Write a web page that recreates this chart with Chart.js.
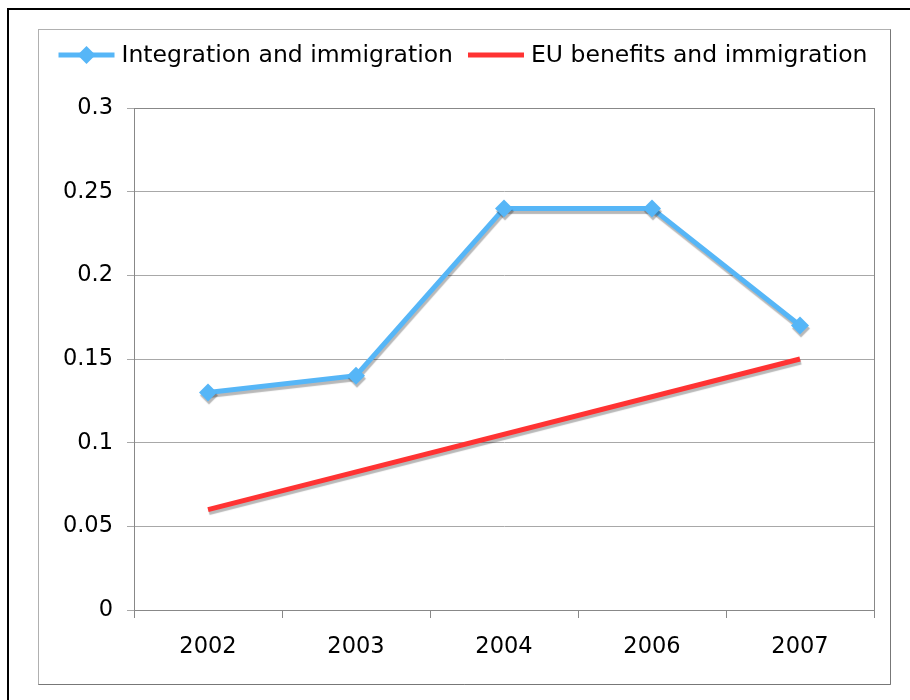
<!DOCTYPE html>
<html>
<head>
<meta charset="utf-8">
<script src="https://cdn.jsdelivr.net/npm/chart.js@4/dist/chart.umd.min.js"></script>
<style>
    html, body { margin: 0; padding: 0; background: #fff; }
    #wrap { width: 910px; height: 700px; position: relative; }
</style>
</head>
<body>
<div id="wrap"><canvas id="chart" width="910" height="700"></canvas></div>
<script>
// data
const years = ["2002", "2003", "2004", "2006", "2007"];
const integration = [0.13, 0.14, 0.24, 0.24, 0.17];
const euBenefits = [0.06, null, null, null, 0.15];
const yTicks = [0, 0.05, 0.1, 0.15, 0.2, 0.25, 0.3];

const seriesNames = ["Integration and immigration", "EU benefits and immigration"];
const blue = "#56b6f7";
const red = "#ff3333";
const fontFamily = "'DejaVu Sans', Verdana, sans-serif";

// outer frames + plot area border
const framePlugin = {
    id: "frames",
    beforeDraw(chart) {
        const ctx = chart.ctx;
        ctx.save();
        ctx.fillStyle = "#fff";
        ctx.fillRect(0, 0, chart.width, chart.height);
        // black outer frame
        ctx.strokeStyle = "#000";
        ctx.lineWidth = 2;
        ctx.beginPath();
        ctx.moveTo(8, 700);
        ctx.lineTo(8, 9);
        ctx.lineTo(910, 9);
        ctx.stroke();
        // gray chart box
        ctx.lineWidth = 1;
        ctx.strokeStyle = "#b0b0b0";
        ctx.strokeRect(38.5, 29.5, 852, 655);
        ctx.strokeStyle = "#777";
        ctx.beginPath();
        ctx.moveTo(38.5, 684.5);
        ctx.lineTo(890.5, 684.5);
        ctx.lineTo(890.5, 29.5);
        ctx.stroke();
        ctx.restore();
    },
    beforeDatasetsDraw(chart) {
        const a = chart.chartArea;
        const ctx = chart.ctx;
        ctx.save();
        ctx.strokeStyle = "#888";
        ctx.lineWidth = 1;
        ctx.strokeRect(Math.round(a.left) + 0.5, Math.round(a.top) + 0.5,
            Math.round(a.right - a.left), Math.round(a.bottom - a.top));
        ctx.restore();
    },
};

// soft gray drop shadow under the lines
const shadowPlugin = {
    id: "shadow",
    beforeDatasetsDraw(chart) {
        const ctx = chart.ctx;
        ctx.save();
        ctx.shadowColor = "rgba(0,0,0,0.28)";
        ctx.shadowOffsetX = 1;
        ctx.shadowOffsetY = 3;
        ctx.shadowBlur = 1;
    },
    afterDatasetsDraw(chart) {
        chart.ctx.restore();
    },
};

// legend drawn by hand: line sample with marker, like the original
const legendPlugin = {
    id: "customLegend",
    afterDraw(chart) {
        const ctx = chart.ctx;
        const sample = 56, gap = 7, between = 15, cy = 55, centerX = 463;
        ctx.save();
        ctx.font = "23.5px " + fontFamily;
        ctx.textBaseline = "middle";
        const sets = chart.data.datasets;
        let total = 0;
        sets.forEach((ds, i) => {
            total += sample + gap + ctx.measureText(ds.label).width;
            if (i < sets.length - 1) total += between;
        });
        let x = centerX - total / 2;
        sets.forEach((ds) => {
            ctx.strokeStyle = ds.borderColor;
            ctx.lineWidth = 5;
            ctx.beginPath();
            ctx.moveTo(x, cy);
            ctx.lineTo(x + sample, cy);
            ctx.stroke();
            if (ds.pointRadius > 0) {
                const r = 9, mx = x + sample / 2;
                ctx.fillStyle = ds.pointBackgroundColor;
                ctx.beginPath();
                ctx.moveTo(mx, cy - r);
                ctx.lineTo(mx + r, cy);
                ctx.lineTo(mx, cy + r);
                ctx.lineTo(mx - r, cy);
                ctx.closePath();
                ctx.fill();
            }
            x += sample + gap;
            ctx.fillStyle = "#000";
            ctx.fillText(ds.label, x, cy + 1);
            x += ctx.measureText(ds.label).width + between;
        });
        ctx.restore();
    },
};

const ctx = document.getElementById("chart");
const chart = new Chart(ctx, {
    type: "line",
    data: {
        labels: years,
        datasets: [
            {
                label: seriesNames[0],
                data: integration,
                borderColor: blue,
                backgroundColor: blue,
                pointBackgroundColor: blue,
                pointBorderColor: blue,
                borderWidth: 5,
                pointStyle: "rectRot",
                pointRadius: 9,
                pointBorderWidth: 0,
                tension: 0,
            },
            {
                label: seriesNames[1],
                data: euBenefits,
                borderColor: red,
                backgroundColor: red,
                borderWidth: 5,
                pointRadius: 0,
                spanGaps: true,
                tension: 0,
            },
        ],
    },
    options: {
        responsive: false,
        animation: false,
        layout: {
            padding: { left: 0, top: 108, right: 36, bottom: 40 },
        },
        plugins: {
            legend: { display: false },
            tooltip: { enabled: false },
        },
        scales: {
            x: {
                offset: true,
                grid: {
                    offset: true,
                    drawOnChartArea: false,
                    tickLength: 8,
                    color: "#888",
                },
                border: { display: true, color: "#808080" },
                ticks: {
                    color: "#000",
                    padding: 16,
                    font: { family: fontFamily, size: 22.5 },
                },
                afterFit(scale) {
                    scale.height = 50;
                },
            },
            y: {
                min: 0,
                max: 0.3,
                grid: {
                    color: "#a8a8a8",
                    tickLength: 7,
                },
                border: { display: true, color: "#808080" },
                ticks: {
                    color: "#000",
                    padding: 14,
                    font: { family: fontFamily, size: 22.5 },
                    callback: (v) => String(Math.round(v * 100) / 100),
                },
                afterBuildTicks(scale) {
                    scale.ticks = yTicks.map((v) => ({ value: v }));
                },
                afterFit(scale) {
                    scale.width = 134;
                },
            },
        },
    },
    plugins: [framePlugin, shadowPlugin, legendPlugin],
});
</script>
</body>
</html>
